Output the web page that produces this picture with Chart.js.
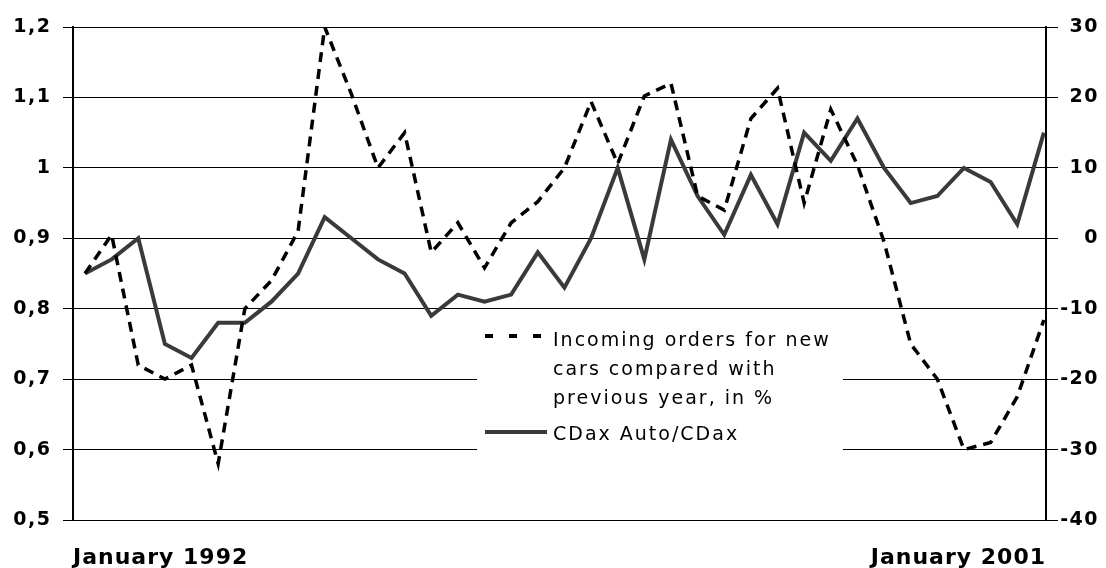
<!DOCTYPE html>
<html>
<head>
<meta charset="utf-8">
<script src="https://cdn.jsdelivr.net/npm/chart.js@4/dist/chart.umd.min.js"></script>
<style>
  html, body { margin: 0; padding: 0; background: #fff; }
  #wrap { width: 1106px; height: 568px; }
</style>
</head>
<body>
<div id="wrap"><canvas id="chart" width="1106" height="568"></canvas></div>
<script>
// quarterly points, January 1992 .. January 2001
const axisLabels = ["January 1992", "January 2001"];
const ordersLabel = ["Incoming orders for new", "cars compared with", "previous year, in %"];
const cdaxLabel = "CDax Auto/CDax";

// CDax Auto / CDax (left axis)
const cdax = [0.85, 0.87, 0.90, 0.75, 0.73, 0.78, 0.78, 0.81, 0.85, 0.93,
  0.90, 0.87, 0.85, 0.79, 0.82, 0.81, 0.82, 0.88, 0.83, 0.90,
  1.00, 0.87, 1.04, 0.96, 0.905, 0.99, 0.92, 1.05, 1.01, 1.07,
  1.00, 0.95, 0.96, 1.00, 0.98, 0.92, 1.05];

// incoming orders vs previous year, % (right axis)
const orders = [-5, 0.5, -18, -20, -18, -32, -10, -6, 1, 30,
  20.5, 10, 15, -2, 2.2, -4.2, 2.2, 5.2, 10, 19.4,
  10.6, 20.2, 22, 6, 4, 17, 21.3, 5, 18.3, 10.4,
  -0.5, -15, -20, -30, -29, -22.5, -11.6];

const leftTicks = [0.5, 0.6, 0.7, 0.8, 0.9, 1.0, 1.1, 1.2];
const rightTicks = [-40, -30, -20, -10, 0, 10, 20, 30];

const xy = (arr) => arr.map((v, i) => ({x: i, y: v}));

// the original labels are spaced out, chart.js has no option for that
function spaced(s, sp) {
  if (s._spaced) return;
  s._spaced = true;
  const orig = s.drawLabels.bind(s);
  s.drawLabels = (area) => {
    s.ctx.save();
    s.ctx.letterSpacing = sp;
    orig(area);
    s.ctx.restore();
  };
}

const legendBox = {
  id: "legendBox",
  beforeDatasetsDraw(chart) {
    const c = chart.ctx;
    c.save();
    c.fillStyle = "#fff";
    c.fillRect(477, 318, 366, 146);
    // dashed sample
    c.fillStyle = "#000";
    for (let k = 0; k < 3; k++) c.fillRect(485 + k * 24, 334, 8, 4);
    // solid sample
    c.fillStyle = "#3a3a3a";
    c.fillRect(485, 430, 62, 4);
    c.fillStyle = "#000";
    c.font = "19px 'DejaVu Sans'";
    c.letterSpacing = "2px";
    c.textBaseline = "alphabetic";
    c.textAlign = "left";
    ordersLabel.forEach((t, k) => c.fillText(t, 553, 346 + k * 29));
    c.fillText(cdaxLabel, 553, 440);
    c.restore();
  }
};

const tickFont = {family: "'DejaVu Sans'", size: 19, weight: "bold"};

new Chart(document.getElementById("chart"), {
  type: "line",
  data: {
    datasets: [
      {
        label: ordersLabel.join(" "),
        data: xy(orders),
        yAxisID: "y2",
        borderColor: "#000",
        borderWidth: 3.5,
        borderDash: [10, 7],
        pointRadius: 0,
        tension: 0,
        fill: false
      },
      {
        label: cdaxLabel,
        data: xy(cdax),
        yAxisID: "y",
        borderColor: "#3a3a3a",
        borderWidth: 4,
        pointRadius: 0,
        tension: 0,
        fill: false
      }
    ]
  },
  options: {
    responsive: false,
    animation: false,
    devicePixelRatio: 1,
    layout: {padding: {top: 27, left: 0, right: 7, bottom: 0}},
    plugins: {legend: {display: false}, tooltip: {enabled: false}},
    scales: {
      x: {
        type: "linear",
        min: -0.45,
        max: 36.08,
        grid: {display: false, drawTicks: false},
        border: {display: false},
        afterBuildTicks: (s) => { s.ticks = [{value: s.min}, {value: s.max}]; },
        afterFit: (s) => { s.height = 48; spaced(s, "1px"); },
        ticks: {
          autoSkip: false,
          maxRotation: 0,
          align: "inner",
          padding: 25,
          color: "#000",
          font: {family: "'DejaVu Sans'", size: 22, weight: "bold"},
          callback: (v, i) => axisLabels[i]
        }
      },
      y: {
        position: "left",
        min: 0.5,
        max: 1.2,
        afterBuildTicks: (s) => { s.ticks = leftTicks.map(v => ({value: v})); },
        afterFit: (s) => { s.width = 73; spaced(s, "1.5px"); },
        grid: {color: "#000", lineWidth: 1, tickLength: 10},
        border: {color: "#000", width: 2},
        ticks: {
          padding: 11.5,
          color: "#000",
          font: tickFont,
          callback: (v) => String(Math.round(v * 10) / 10).replace(".", ",")
        }
      },
      y2: {
        position: "right",
        min: -40,
        max: 30,
        afterBuildTicks: (s) => { s.ticks = rightTicks.map(v => ({value: v})); },
        afterFit: (s) => { s.width = 53; spaced(s, "1.5px"); },
        grid: {drawOnChartArea: false, color: "#000", lineWidth: 1, tickLength: 12},
        border: {color: "#000", width: 2},
        ticks: {
          padding: 1,
          crossAlign: "far",
          color: "#000",
          font: tickFont,
          callback: (v) => String(v)
        }
      }
    }
  },
  plugins: [legendBox]
});
</script>
</body>
</html>
